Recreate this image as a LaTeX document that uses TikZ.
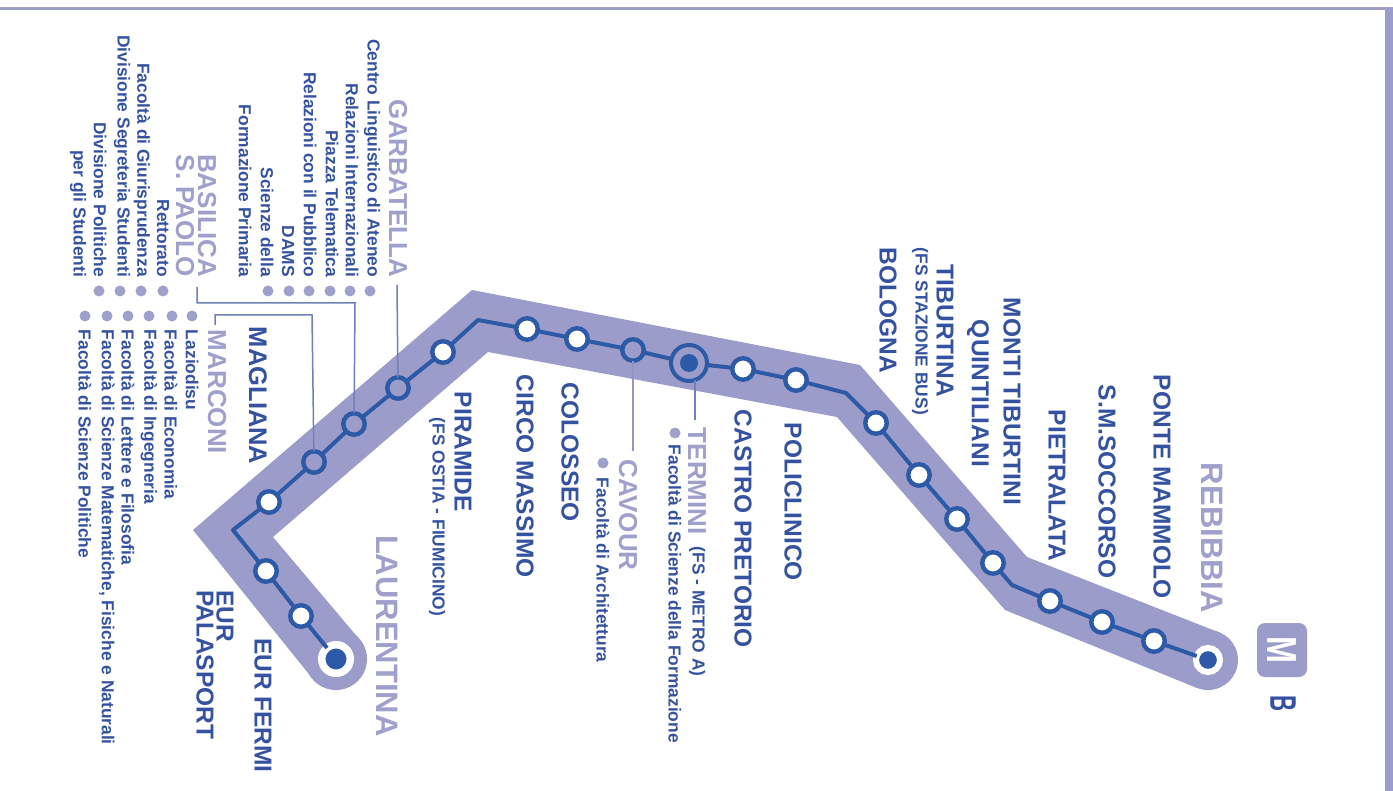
\documentclass[tikz,border=0pt]{standalone}
\usepackage{fontspec}
\setmainfont{Liberation Sans}
\definecolor{band}{HTML}{9C9CCB}
\definecolor{rail}{HTML}{2C5AA6}
\definecolor{navy}{HTML}{34529F}
\definecolor{lilac}{HTML}{A0A0CC}
\definecolor{lead}{HTML}{6F80B6}
\tikzset{
  every node/.style={inner sep=0pt,outer sep=0pt},
  stopw/.style={circle,fill=white,draw=rail,line width=4.4pt,minimum size=21.5pt},
  stopl/.style={circle,fill=band,draw=rail,line width=4.4pt,minimum size=21.5pt},
  endstop/.style={circle,fill=rail,draw=white,line width=#1},
  railway/.style={draw=rail,line width=4pt,line join=round},
  leaderline/.style={draw=lead,line width=1.5pt},
  stname/.style={text=navy,rotate=-90,font=\fontsize{24.5}{24.5}\selectfont\bfseries},
  ltname/.style={text=lilac,rotate=-90,font=\fontsize{26}{26}\selectfont\bfseries},
  bigname/.style={text=lilac,rotate=-90,font=\fontsize{31}{31}\selectfont\bfseries},
  smalltxt/.style={text=navy,rotate=-90,font=\fontsize{17.4}{17.4}\selectfont\bfseries},
  bul/.style={circle,fill=lilac,minimum size=11pt},
}
\begin{document}
\begin{tikzpicture}[x=1pt,y=-1pt]
\useasboundingbox (0,0) rectangle (1393,791);
\fill[white] (0,0) rectangle (1393,791);
\fill[lilac!90!gray] (0,7) rectangle (1393,10);
\fill[band] (1385,7) rectangle (1393,791);
% band
\fill[band] (360,640) -- (273,537) -- (488,352) -- (837,417) -- (1005,610) -- (1197,688) -- (1218,632) -- (1027,557) -- (860,365) -- (472,290) -- (193,530) -- (312,678) -- cycle;
\fill[band] (336,659) circle (31);
\fill[band] (1208,660) circle (30);
% stations
\coordinate (b1) at (233,530);
\coordinate (b2) at (478,320);
\coordinate (b3) at (846,393);
\coordinate (b4) at (1012,585);
\node[endstop=7.5pt,minimum size=28.5pt] (s1) at (336,659) {};
\node[stopw] (s2) at (301,616) {};
\node[stopw] (s3) at (266,571) {};
\node[stopw] (s4) at (269,502) {};
\node[stopl] (s5) at (314,462) {};
\node[stopl] (s6) at (354,424) {};
\node[stopl] (s7) at (398,388) {};
\node[stopw] (s8) at (443,352) {};
\node[stopw] (s9) at (527,329) {};
\node[stopw] (s10) at (577,339) {};
\node[stopl] (s11) at (633,350) {};
\node[circle,fill=band,draw=rail,line width=4pt,minimum size=36pt] (s12) at (689,363) {};
\node[circle,fill=rail,minimum size=18pt] (s12d) at (689,363) {};
\node[stopw] (s13) at (743,369) {};
\node[stopw] (s14) at (796,380) {};
\node[stopw] (s15) at (876,423) {};
\node[stopw] (s16) at (919,475) {};
\node[stopw] (s17) at (957,519) {};
\node[stopw] (s18) at (993,563) {};
\node[stopw] (s19) at (1050,601) {};
\node[stopw] (s20) at (1102,622) {};
\node[stopw] (s21) at (1154,641) {};
\node[endstop=6pt,minimum size=24pt] (s22) at (1208,660) {};
\draw[railway] (s1)--(s2); \draw[railway] (s2)--(s3); \draw[railway] (s3)--(b1)--(s4);
\draw[railway] (s4)--(s5); \draw[railway] (s5)--(s6); \draw[railway] (s6)--(s7);
\draw[railway] (s7)--(s8); \draw[railway] (s8)--(b2)--(s9); \draw[railway] (s9)--(s10);
\draw[railway] (s10)--(s11); \draw[railway] (s11)--(s12); \draw[railway] (s12)--(s13);
\draw[railway] (s13)--(s14); \draw[railway] (s14)--(b3)--(s15); \draw[railway] (s15)--(s16);
\draw[railway] (s16)--(s17); \draw[railway] (s17)--(s18); \draw[railway] (s18)--(b4)--(s19);
\draw[railway] (s19)--(s20); \draw[railway] (s20)--(s21); \draw[railway] (s21)--(s22);
% labels
\node[ltname,anchor=east] (garb) at (398,277) {GARBATELLA};
\node[ltname,anchor=east] (basi) at (207,277) {BASILICA};
\node[ltname,anchor=east] (paol) at (185,277) {S. PAOLO};
\node[ltname,anchor=west] (marc) at (217,330) {MARCONI};
\node[bigname,anchor=west] (laur) at (387,535) {LAURENTINA};
\node[bigname,anchor=west] (rebi) at (1212,463) {REBIBBIA};
\node[ltname,anchor=west] (cavo) at (628,460) {CAVOUR};
\node[ltname,anchor=west] (term) at (697,428) {TERMINI};
\node[stname,anchor=west] at (258,327) {\fontsize{25.5}{25.5}\selectfont MAGLIANA};
\node[stname,anchor=west] at (225,590) {EUR};
\node[stname,anchor=west] at (205,590) {PALASPORT};
\node[stname,anchor=west] at (263,638) {EUR FERMI};
\node[stname,anchor=west] at (463,392) {PIRAMIDE};
\node[stname,anchor=west] at (525,375) {CIRCO MASSIMO};
\node[stname,anchor=west] at (570,383) {COLOSSEO};
\node[stname,anchor=west] at (743,410) {CASTRO PRETORIO};
\node[stname,anchor=west] at (793,423) {POLICLINICO};
\node[stname,anchor=east] at (888,373) {BOLOGNA};
\node[stname,anchor=west] at (945,265) {TIBURTINA};
\node[stname,anchor=west] at (978,320) {QUINTILIANI};
\node[stname,anchor=west] at (1012,298) {MONTI TIBURTINI};
\node[stname,anchor=west] at (1057,410) {PIETRALATA};
\node[stname,anchor=west] at (1107,385) {S.M.SOCCORSO};
\node[stname,anchor=west] at (1162,375) {PONTE MAMMOLO};
\node[smalltxt,anchor=west] at (437,418) {(FS OSTIA - FIUMICINO)};
\node[smalltxt,anchor=west] at (920,248) {(FS STAZIONE BUS)};
\node[smalltxt,anchor=west] at (697,547) {(FS - METRO A)};
\node[smalltxt,anchor=west] at (603,478) {Facoltà di Architettura};
\node[smalltxt,anchor=west] at (675,445) {Facoltà di Scienze della Formazione};
\node[bul] at (603,463) {};
\node[bul] at (675,433) {};
% upper lists
\foreach \x/\t in {372/Centro Linguistico di Ateneo,352/Relazioni Internazionali,332/Piazza Telematica,310/Relazioni con il Pubblico,288/DAMS,267/Scienze della,245/Formazione Primaria,163/Rettorato,142/Facoltà di Giurisprudenza,122/Divisione Segreteria Studenti,100/Divisione Politiche,78/per gli Studenti}
  \node[smalltxt,anchor=east] at (\x,277) {\t};
\foreach \x in {370,350,330,309,289,268,163,141,120,99}
  \node[bul] at (\x,291) {};
% lower lists
\foreach \x/\t in {192/Laziodisu,171/Facoltà di Economia,149/Facoltà di Ingegneria,128/Facoltà di Lettere e Filosofia,107/{Facoltà di Scienze Matematiche, Fisiche e Naturali},85/Facoltà di Scienze Politiche}
  \node[smalltxt,anchor=west] at (\x,330) {\t};
\foreach \x in {192,172,149,128,107,85}
  \node[bul] at (\x,316) {};
% leaders
\coordinate (g0) at (397,285);
\draw[leaderline] (g0) -- (s7);
\coordinate (p0) at (197,287);
\coordinate (p1) at (197,303);
\coordinate (p2) at (355,303);
\draw[leaderline] (p0) -- (p1) -- (p2) -- (s6);
\coordinate (m0) at (215,325);
\coordinate (m1) at (215,315);
\coordinate (m2) at (312,315);
\draw[leaderline] (m0) -- (m1) -- (m2) -- (s5);
\coordinate (c0) at (633,451);
\draw[draw=lilac!70!lead,line width=2.4pt] (c0) -- (s11);
\coordinate (t0) at (695,420);
\coordinate (t1) at (695,380);
\draw[leaderline] (t0) -- (t1);
% logo
\node[fill=band,rounded corners=8pt,minimum width=50pt,minimum height=54pt] (mbox) at (1282,650) {};
\node[text=white,rotate=-90,font=\fontsize{42}{42}\selectfont\bfseries] at (mbox) {\scalebox{0.77}[1]{M}};
\node[text=navy,rotate=-90,font=\fontsize{37}{37}\selectfont\bfseries] (lineb) at (1283,704) {\scalebox{0.6}[1]{B}};
\end{tikzpicture}
\end{document}
